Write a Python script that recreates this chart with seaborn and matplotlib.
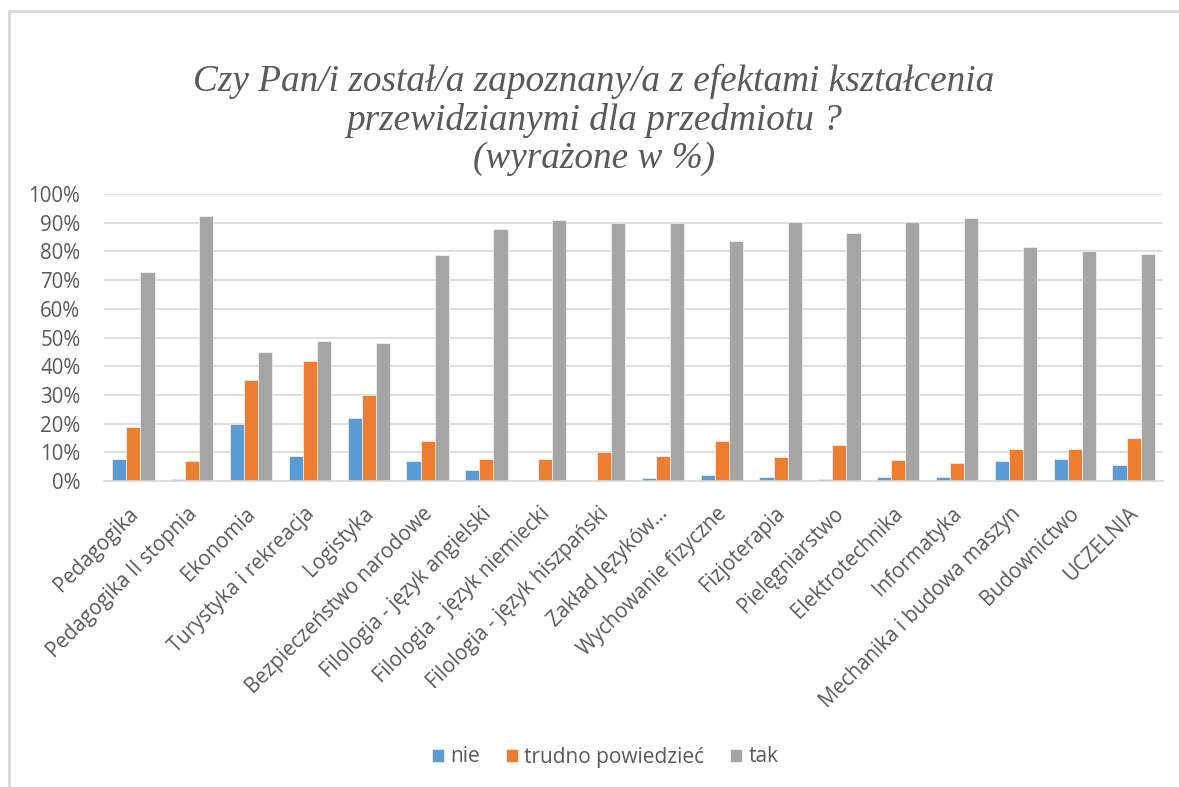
import matplotlib
matplotlib.use("Agg")
import matplotlib.pyplot as plt
from matplotlib.lines import Line2D
from matplotlib.ticker import FuncFormatter, MultipleLocator
from matplotlib.transforms import ScaledTranslation
import seaborn as sns
import pandas as pd

categories = [
    "Pedagogika", "Pedagogika II stopnia", "Ekonomia", "Turystyka i rekreacja",
    "Logistyka", "Bezpieczeństwo narodowe", "Filologia - język angielski",
    "Filologia - język niemiecki", "Filologia - język hiszpański", "Zakład Języków…",
    "Wychowanie fizyczne", "Fizjoterapia", "Pielęgniarstwo", "Elektrotechnika",
    "Informatyka", "Mechanika i budowa maszyn", "Budownictwo", "UCZELNIA",
]
series_names = ["nie", "trudno powiedzieć", "tak"]
nie = [7.8, 0.6, 19.9, 8.7, 22.1, 6.9, 3.7, 0.0, 0.0, 1.0, 2.0, 1.5, 0.6, 1.5, 1.5, 6.9, 7.8, 5.5]
trudno = [18.9, 6.9, 35.1, 41.7, 30.1, 14.1, 7.8, 7.8, 10.0, 8.7, 14.1, 8.2, 12.7, 7.3, 6.4, 11.3, 11.3, 14.9]
tak = [72.9, 92.2, 44.8, 48.9, 48.0, 78.9, 87.7, 90.8, 90.0, 90.0, 83.7, 90.4, 86.4, 90.4, 91.8, 81.4, 80.1, 79.2]
colors = ["#5B9BD5", "#ED7D31", "#A5A5A5"]
title = "Czy Pan/i został/a zapoznany/a z efektami kształcenia\nprzewidzianymi dla przedmiotu ?\n(wyrażone w %)"

rows = []
for name, vals in zip(series_names, [nie, trudno, tak]):
    for c, v in zip(categories, vals):
        rows.append({"kierunek": c, "odpowiedź": name, "wartość": v})
df = pd.DataFrame(rows)

sns.set_theme(style="white")
plt.rcParams["font.family"] = ["Open Sans", "DejaVu Sans"]
text_color = "#595959"

fig = plt.figure(figsize=(11.79, 7.87), dpi=100)
ax = fig.add_axes([104 / 1179, 1 - 481 / 787, (1163 - 104) / 1179, (481 - 194) / 787])

sns.barplot(data=df, x="kierunek", y="wartość", hue="odpowiedź",
            order=categories, hue_order=series_names,
            palette=colors, width=0.72, gap=0, saturation=1,
            edgecolor="white", linewidth=0.4, ax=ax, legend=True)

ax.set_ylim(0, 100)
ax.set_xlim(-0.5, len(categories) - 0.5)
ax.yaxis.set_major_locator(MultipleLocator(10))
ax.yaxis.set_major_formatter(FuncFormatter(lambda v, p: f"{int(round(v))}%"))
ax.grid(axis="y", color="#D9D9D9", linewidth=1.2)
ax.set_axisbelow(True)
for s in ["top", "right", "left"]:
    ax.spines[s].set_visible(False)
ax.spines["bottom"].set_color("#D9D9D9")
ax.spines["bottom"].set_linewidth(1.2)
ax.set_xlabel("")
ax.set_ylabel("")
ax.tick_params(axis="both", length=0, colors=text_color)
ax.tick_params(axis="x", labelsize=14.8, pad=16)
ax.tick_params(axis="y", labelsize=14.8, pad=17)
shift = ScaledTranslation(-6 / 100, 0, fig.dpi_scale_trans)
for lbl in ax.get_xticklabels():
    lbl.set_rotation(45)
    lbl.set_ha("right")
    lbl.set_rotation_mode("anchor")
    lbl.set_transform(lbl.get_transform() + shift)

ax.legend(loc="center", bbox_to_anchor=(605 / 1179, 1 - 757 / 787),
          bbox_transform=fig.transFigure, ncol=3, frameon=False,
          fontsize=15, labelcolor=text_color, handlelength=0.58, handleheight=0.58,
          columnspacing=1.25, handletextpad=0.3)

fig.text(594 / 1179, 1 - 120 / 787, title, ha="center", va="center",
         family="Liberation Serif", style="italic", fontsize=26.8,
         color=text_color, linespacing=1.15)

# chart border (top and left)
fig.add_artist(Line2D([9 / 1179, 1], [1 - 11 / 787, 1 - 11 / 787],
                      transform=fig.transFigure, color="#D9D9D9", linewidth=2))
fig.add_artist(Line2D([9 / 1179, 9 / 1179], [0, 1 - 11 / 787],
                      transform=fig.transFigure, color="#D9D9D9", linewidth=2))

fig.savefig("out.png", dpi=100, facecolor="white")
